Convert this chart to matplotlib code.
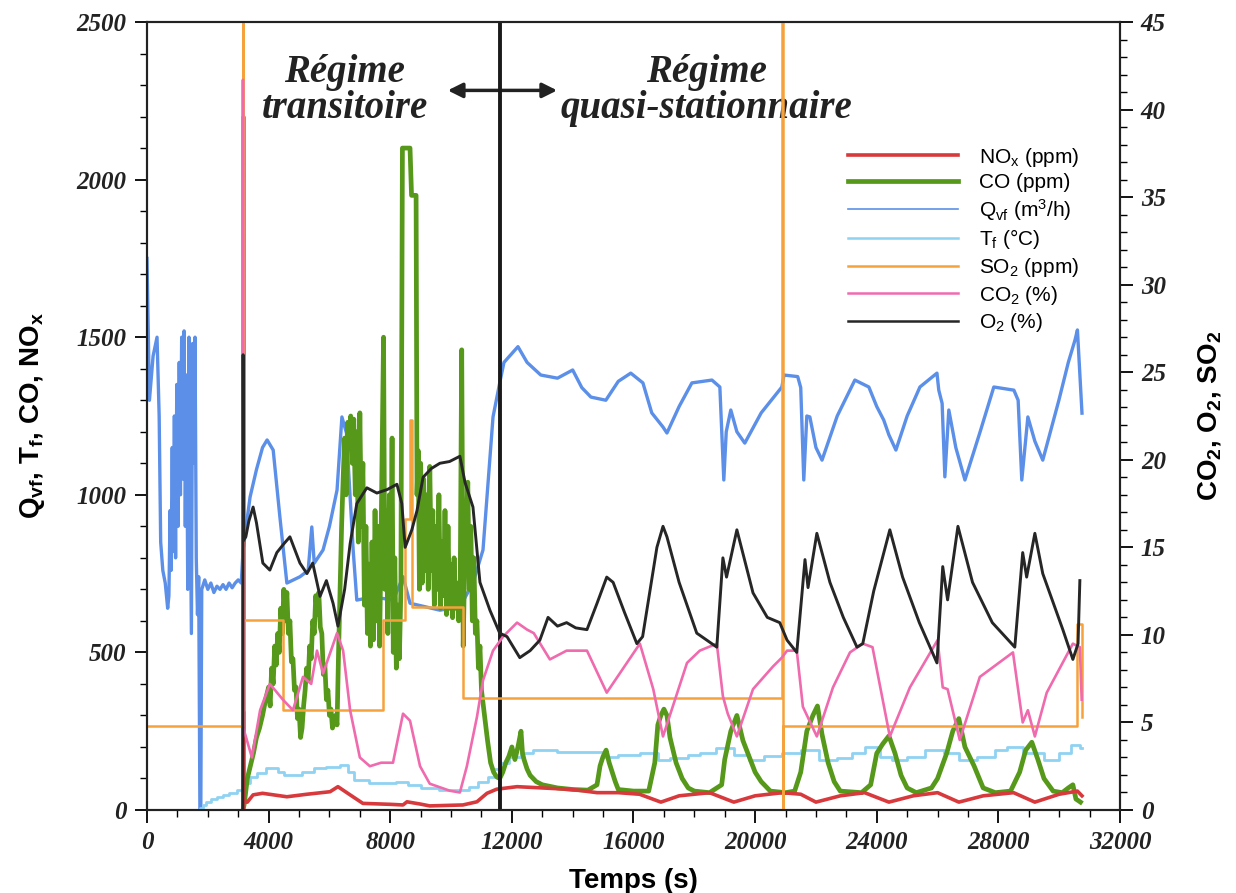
import matplotlib
matplotlib.use("Agg")
import matplotlib.pyplot as plt
from matplotlib.ticker import MultipleLocator
from matplotlib.lines import Line2D

plt.rcParams['font.family'] = 'Liberation Sans'
plt.rcParams['mathtext.fontset'] = 'custom'
plt.rcParams['mathtext.rm'] = 'Liberation Sans'
plt.rcParams['mathtext.bf'] = 'Liberation Sans:bold'
plt.rcParams['mathtext.it'] = 'Liberation Sans:italic'
plt.rcParams['mathtext.default'] = 'rm'

# ---- data (time in s) ----
# left axis: Qvf (m3/h), Tf (degC), CO (ppm), NOx (ppm)
qvf_t = [0, 80, 200, 330, 400, 450, 520, 600, 680, 720, 760, 790, 830, 860, 900, 940, 980, 1020,
         1060, 1100, 1140, 1180, 1220, 1260, 1300, 1340, 1380, 1420, 1460, 1500, 1540, 1580, 1620,
         1660, 1700, 1740, 1770, 1800, 1900, 2000, 2100, 2200, 2300, 2400, 2500, 2600, 2700, 2800,
         2900, 3000, 3100,
         3160, 3390, 3600, 3800, 3950, 4150, 4370, 4600, 5030, 5300, 5420, 5500, 5790, 6000, 6250,
         6410, 6560, 6780, 6900, 7430, 8100, 8420, 8650, 9630, 10290, 10720, 11050, 11380, 11600,
         11740, 12200, 12500, 12950, 13500, 14000, 14300, 14600, 15090, 15500, 15910, 16310, 16600,
         16970, 17100, 17500, 17920, 18580, 18840, 18970, 19050, 19200, 19400, 19660, 20200, 20880,
         20950, 21400, 21500, 21600, 21700, 21800, 22000, 22200, 22700, 23280, 23740, 24000, 24230,
         24400, 24630, 25000, 25420, 25980, 26040, 26150, 26240, 26370, 26600, 26900, 27400, 27850,
         28510, 28650, 28770, 28970, 29200, 29460, 29990, 30300, 30520, 30600, 30750]
qvf_v = [1750, 1300, 1440, 1500, 1250, 850, 760, 720, 640, 680, 950, 760, 1150, 820, 1250, 800, 1350, 900,
         1420, 1000, 1500, 1050, 1520, 900, 1380, 700, 1500, 1050, 560, 1480, 1100, 1500, 800,
         620, 740, 0, 0, 700, 730, 700, 720, 690, 710, 700, 715, 700, 720, 705,
         720, 730, 720,
         825, 993, 1080, 1150, 1174, 1142, 930, 720, 740, 760, 898, 783, 825, 900, 1015,
         1247, 1196, 825, 666, 676, 666, 740, 656, 634, 644, 720, 825, 1247, 1355,
         1420, 1470, 1420, 1380, 1370, 1396, 1340, 1310, 1300, 1360, 1386, 1355, 1260,
         1215, 1196, 1280, 1355, 1364, 1342, 1047, 1200, 1269, 1200, 1164, 1260, 1342,
         1380, 1375, 1340, 1047, 1250, 1247, 1150, 1110, 1250, 1364, 1342, 1280, 1237,
         1190, 1142, 1250, 1342, 1386, 1332, 1290, 1057, 1269, 1150, 1047, 1200, 1342,
         1332, 1300, 1047, 1247, 1170, 1110, 1300, 1420, 1491, 1523, 1259]

tf_t = [0, 1750, 1850, 1950, 2100, 2300, 2500, 2700, 2950, 3160, 3400, 3620, 3900, 4300, 4500, 4800,
        5100, 5500, 5900, 6350, 6600, 6800, 7300, 8200, 8600, 9000, 9600, 10300, 10600, 10900, 11200,
        11400, 11600, 11900, 12300, 12700, 13500, 14500, 15000, 15500, 16200, 16800, 17200, 17800,
        18200, 18700, 19300, 19800, 20300, 20900, 21500, 22100, 22700, 23200, 23600, 24100, 24500,
        25000, 25600, 26200, 26700, 27300, 27900, 28300, 28800, 29500, 30000, 30400, 30700, 30750]
tf_v = [0, 5, 15, 25, 35, 42, 48, 55, 63, 85, 105, 117, 133, 120, 111, 111,
        121, 133, 138, 143, 120, 95, 85, 89, 80, 70, 63, 63, 73, 90, 105,
        130, 149, 168, 181, 190, 184, 184, 168, 175, 181, 159, 165, 175,
        181, 197, 175, 159, 170, 181, 190, 159, 165, 181, 200, 168, 159,
        168, 190, 181, 159, 168, 190, 200, 181, 159, 181, 206, 197, 197]

co_t = [3160, 3200, 3300, 3400, 3500, 3600, 3700, 3800, 3900, 4000, 4050, 4100, 4150, 4200, 4250, 4300,
        4350, 4400, 4450, 4500, 4550, 4600, 4650, 4700, 4750, 4800, 4850, 4900, 4950, 5000, 5050,
        5100, 5150, 5200, 5250, 5300, 5350, 5400, 5450, 5500, 5550, 5600, 5650, 5700, 5750, 5800,
        5850, 5900, 5950, 6000, 6050, 6100, 6200, 6250, 6300, 6350, 6400, 6450, 6500, 6550, 6600,
        6650, 6700, 6750, 6800, 6850, 6900, 6950, 7000, 7050, 7100, 7150, 7200, 7250, 7300, 7350,
        7400, 7450, 7500, 7550, 7600, 7650, 7700, 7780, 7820, 7870, 7920, 7970, 8020, 8060, 8100,
        8150, 8200, 8250, 8300, 8350, 8400, 8650, 8700, 8850, 8880, 8920, 8960, 9000, 9050, 9100,
        9150, 9200, 9250, 9300, 9350, 9400, 9450, 9500, 9550, 9600, 9650, 9700, 9750, 9800, 9850,
        9900, 9950, 10000, 10050, 10100, 10150, 10200, 10250, 10300, 10350, 10400, 10450, 10500,
        10550, 10600, 10650, 10700, 10750, 10800, 10850, 10900, 10950, 11000, 11100, 11200, 11300,
        11400, 11500, 11600, 11700, 11800, 11900, 12000, 12100, 12200, 12300, 12350, 12400, 12500,
        12600, 12800, 13000, 13500, 14000, 14500, 14800, 14900, 15000, 15100, 15200, 15400, 15500,
        16000, 16500, 16700, 16800, 16900, 17000, 17100, 17200, 17400, 17600, 17800, 18000, 18500,
        18900, 19000, 19200, 19400, 19600, 19800, 20000, 20200, 20500, 21000, 21300, 21500, 21700,
        21900, 22050, 22200, 22400, 22600, 22800, 23500, 23800, 24000, 24200, 24400, 24600, 24800,
        25000, 25300, 25800, 26000, 26300, 26500, 26700, 26900, 27200, 27500, 27900, 28400, 28700,
        28900, 29100, 29300, 29500, 29800, 30100, 30300, 30450, 30550, 30700]
co_v = [0, 20, 100, 140, 180, 230, 260, 300, 350, 390, 330, 450, 400, 520, 460, 560,
        500, 640, 560, 700, 600, 690, 560, 600, 470, 480, 380, 390, 290, 320, 230,
        260, 330, 380, 450, 410, 520, 480, 600, 560, 680, 620, 690, 580, 560, 430,
        460, 350, 380, 300, 320, 260, 300, 270, 500, 700, 900, 1050, 1180, 1000, 1230,
        1150, 1250, 1100, 1240, 1000, 1200, 850, 1260, 900, 1100, 650, 900, 560, 780, 520,
        850, 540, 950, 600, 900, 520, 880, 1500, 700, 950, 560, 1000, 700, 1180, 500,
        800, 450, 650, 480, 700, 2100, 2100, 1950, 1950, 1000, 1140, 700, 1100, 720, 1050,
        760, 1000, 700, 1090, 760, 950, 650, 900, 700, 1000, 640, 850, 680, 950, 620,
        900, 640, 780, 610, 800, 640, 720, 600, 700, 1460, 520, 800, 900,
        1040, 700, 900, 600, 800, 560, 600, 450, 520, 380, 300, 220, 150,
        120, 105, 100, 120, 150, 170, 200, 160, 200, 250, 180, 160, 130,
        110, 90, 80, 70, 65, 63, 80, 140, 170, 190, 150, 90, 65,
        60, 60, 150, 270, 300, 320, 300, 230, 150, 100, 70, 60, 55,
        80, 160, 250, 300, 220, 170, 120, 90, 60, 55, 60, 120, 250,
        300, 330, 240, 150, 90, 60, 55, 80, 180, 210, 235, 180, 110,
        70, 55, 70, 100, 180, 250, 290, 200, 140, 70, 55, 60, 120,
        190, 215, 160, 100, 60, 55, 70, 80, 35, 25]

nox_t = [3160, 3175, 3190, 3300, 3490, 3800, 4600, 5260, 6020, 6280, 6680, 7100, 8000, 8420, 8550,
         8980, 9300, 10390, 10850, 11180, 11500, 12170, 13000, 14000, 14800, 15500, 16200, 16900,
         17500, 18500, 19300, 20000, 20900, 21500, 22000, 22800, 23600, 24400, 25200, 26000, 26700,
         27500, 28500, 29200, 30000, 30600, 30750]
nox_v = [0, 2200, 25, 25, 48, 53, 42, 50, 58, 74, 48, 21, 18, 16, 26,
         19, 13, 16, 26, 53, 66, 74, 70, 65, 55, 55, 50, 25,
         45, 55, 25, 45, 55, 50, 25, 45, 55, 25, 45, 55, 25,
         45, 55, 25, 50, 60, 45]

# right axis: CO2 (%), O2 (%), SO2 (ppm)
so2_t = [0, 3150, 3160, 3180, 4470, 7760, 8490, 8640, 8720, 10390, 20900, 20910, 20930, 30580, 30740, 30760]
so2_v = [4.8, 50, 5.7, 10.85, 5.7, 10.85, 16.6, 22.3, 11.6, 6.4, 50, 0, 4.8, 10.6, 5.3, 5.3]

co2_t = [3150, 3155, 3165, 3250, 3450, 3720, 4040, 4470, 4800, 5130, 5400, 5590, 5790, 6250, 6450,
         6680, 7000, 7330, 7700, 8090, 8420, 8650, 8980, 9300, 9960, 10290, 10520, 10850, 11050,
         11380, 11710, 12170, 12500, 12720, 13250, 13800, 14470, 15120, 16210, 16650, 16970, 17760,
         18180, 18740, 18940, 19100, 19400, 19930, 20590, 20880, 21050, 21370, 21570, 22030, 22560,
         23120, 23540, 23860, 24430, 25090, 26000, 26170, 26330, 26730, 27390, 28480, 28800, 28970,
         29200, 29590, 30450, 30680, 30740]
co2_v = [4.7, 41.7, 4.7, 4.2, 3.0, 5.7, 7.2, 6.3, 5.7, 7.6, 7.2, 9.1, 7.8, 10.1, 9.1,
         5.7, 3.0, 2.5, 2.7, 2.7, 5.5, 5.1, 2.5, 1.5, 1.1, 1.0, 2.5, 5.3, 7.4,
         9.1, 9.9, 10.7, 10.3, 10.1, 8.6, 9.1, 9.1, 6.7, 9.5, 6.9, 4.2, 8.4,
         9.1, 9.5, 6.5, 5.5, 4.2, 6.9, 8.2, 8.7, 9.1, 9.1, 5.9, 4.2, 7.0,
         9.0, 9.5, 9.3, 4.2, 7.0, 9.7, 7.0, 6.9, 4.0, 7.6, 9.0, 5.0, 5.7,
         4.2, 6.7, 9.5, 9.3, 6.3]

o2_t = [3150, 3160, 3175, 3250, 3350, 3490, 3600, 3810, 4040, 4270, 4500, 4700, 5030, 5260,
        5450, 5690, 5900, 6120, 6280, 6500, 6680, 6900, 7230, 7560, 7900, 8220, 8380, 8490, 8710,
        8880, 9080, 9350, 9630, 9950, 10290, 10460, 10720, 10950, 11280, 11600, 11840, 12260, 12600,
        12920, 13190, 13500, 13800, 14100, 14470, 14800, 15120, 15330, 15700, 16110, 16300, 16770,
        16970, 17100, 17500, 18080, 18740, 18940, 19060, 19400, 19930, 20400, 20810, 21050, 21370,
        21640, 21740, 22030, 22460, 22900, 23350, 23540, 23900, 24430, 24850, 25400, 25980, 26170,
        26330, 26670, 27150, 27800, 28540, 28800, 28930, 29200, 29460, 30120, 30450, 30620, 30680]
o2_v = [0, 26, 15.4, 15.6, 16.5, 17.3, 16.4, 14.1, 13.7, 14.7, 15.2, 15.6, 14.1, 13.5,
        14.1, 12.2, 13.1, 11.8, 10.5, 12.6, 15.2, 17.5, 18.4, 18.1, 18.3, 18.6, 17.5, 15.0, 16.0,
        17.1, 19.0, 19.5, 19.8, 19.9, 20.2, 18.7, 17.3, 13.0, 11.4, 10.1, 9.9, 8.7, 9.1,
        9.7, 11.0, 10.5, 10.7, 10.4, 10.3, 11.8, 13.3, 13.0, 11.3, 9.5, 9.9, 15.0,
        16.2, 15.6, 13.0, 10.1, 9.3, 14.4, 13.3, 16.0, 12.4, 11.0, 10.7, 9.7, 9.0,
        14.3, 12.7, 15.8, 13.0, 11.0, 9.3, 9.5, 12.5, 16.0, 13.3, 10.7, 8.4, 13.9,
        12.0, 16.2, 13.0, 10.7, 9.3, 14.7, 13.3, 15.8, 13.5, 10.3, 8.6, 9.5, 13.1]

regime_split = 11600
arrow_span = (9800, 13580)
label_level = 2283

colors = {
    'nox': '#d8393c', 'co': '#56981a', 'qvf': '#5b8fe8', 'tf': '#8fd2f2',
    'so2': '#f6a23c', 'co2': '#f06aae', 'o2': '#262626',
}

fig = plt.figure(figsize=(12.36, 8.93), dpi=100)
ax = fig.add_axes([147 / 1236, 83 / 893, 973 / 1236, 788 / 893])
ax2 = ax.twinx()

ax.plot(qvf_t, qvf_v, color=colors['qvf'], lw=2.4, zorder=2)
ax.plot(tf_t, tf_v, color=colors['tf'], lw=2.0, drawstyle='steps-post', zorder=3)
ax.plot(co_t, co_v, color=colors['co'], lw=3.4, zorder=4)
ax.plot(nox_t, nox_v, color=colors['nox'], lw=2.6, zorder=5)
ax.axvline(regime_split, color='#1a1a1a', lw=2.8, zorder=6)

ax2.plot(so2_t, so2_v, color=colors['so2'], lw=1.8, drawstyle='steps-post')
ax2.plot(co2_t, co2_v, color=colors['co2'], lw=1.9)
ax2.plot(o2_t, o2_v, color=colors['o2'], lw=2.1)

ax.set_xlim(0, 32000)
ax.set_ylim(0, 2500)
ax2.set_ylim(0, 45)

ax.xaxis.set_major_locator(MultipleLocator(4000))
ax.xaxis.set_minor_locator(MultipleLocator(1000))
ax.yaxis.set_major_locator(MultipleLocator(500))
ax.yaxis.set_minor_locator(MultipleLocator(100))
ax2.yaxis.set_major_locator(MultipleLocator(5))
ax2.yaxis.set_minor_locator(MultipleLocator(1))

for a in (ax, ax2):
    a.tick_params(which='major', direction='out', length=9, width=1.3, pad=6)
    a.tick_params(which='minor', direction='out', length=5, width=1.0)
    for sp in a.spines.values():
        sp.set_linewidth(1.5)
        sp.set_color('#222222')

tick_font = dict(family='Liberation Serif', weight='bold', style='italic', size=18, color='#222222')
for lab in ax.get_xticklabels() + ax.get_yticklabels() + ax2.get_yticklabels():
    lab.set(**tick_font)

ax.set_xlabel('Temps (s)', fontsize=20, fontweight='bold', labelpad=10)
ax.set_ylabel(r'Q$_\mathbf{vf}$, T$_\mathbf{f}$, CO, NO$_\mathbf{x}$', fontsize=20,
              fontweight='bold', labelpad=21)
ax2.set_ylabel(r'CO$_\mathbf{2}$, O$_\mathbf{2}$, SO$_\mathbf{2}$', fontsize=20,
               fontweight='bold', labelpad=22)

# regime annotations
txt_font = dict(family='Liberation Serif', weight='bold', style='italic', size=28,
                color='#222222', ha='center', va='center', linespacing=0.95)
ax.text(6510, label_level, 'Régime\ntransitoire', **txt_font)
ax.text(18400, label_level, 'Régime\nquasi-stationnaire', **txt_font)
ax.annotate('', xy=(arrow_span[0], label_level), xytext=(arrow_span[1], label_level),
            arrowprops=dict(arrowstyle='<|-|>', color='#222222', lw=2.5, mutation_scale=22))

handles = [
    Line2D([], [], color=colors['nox'], lw=2.6),
    Line2D([], [], color=colors['co'], lw=3.4),
    Line2D([], [], color=colors['qvf'], lw=1.2),
    Line2D([], [], color=colors['tf'], lw=1.8),
    Line2D([], [], color=colors['so2'], lw=1.8),
    Line2D([], [], color=colors['co2'], lw=1.8),
    Line2D([], [], color=colors['o2'], lw=1.8),
]
labels = [r'NO$_x$ (ppm)', 'CO (ppm)', r'Q$_{vf}$ (m$^3$/h)', r'T$_f$ ($\degree$C)',
          r'SO$_2$ (ppm)', r'CO$_2$ (%)', r'O$_2$ (%)']
leg = ax2.legend(handles, labels, loc='upper left', bbox_to_anchor=(0.72, 0.843),
                 frameon=False, fontsize=15, handlelength=5.3, handletextpad=1.0,
                 labelspacing=0.22, borderpad=0, borderaxespad=0)

fig.savefig('out.png', dpi=100)
